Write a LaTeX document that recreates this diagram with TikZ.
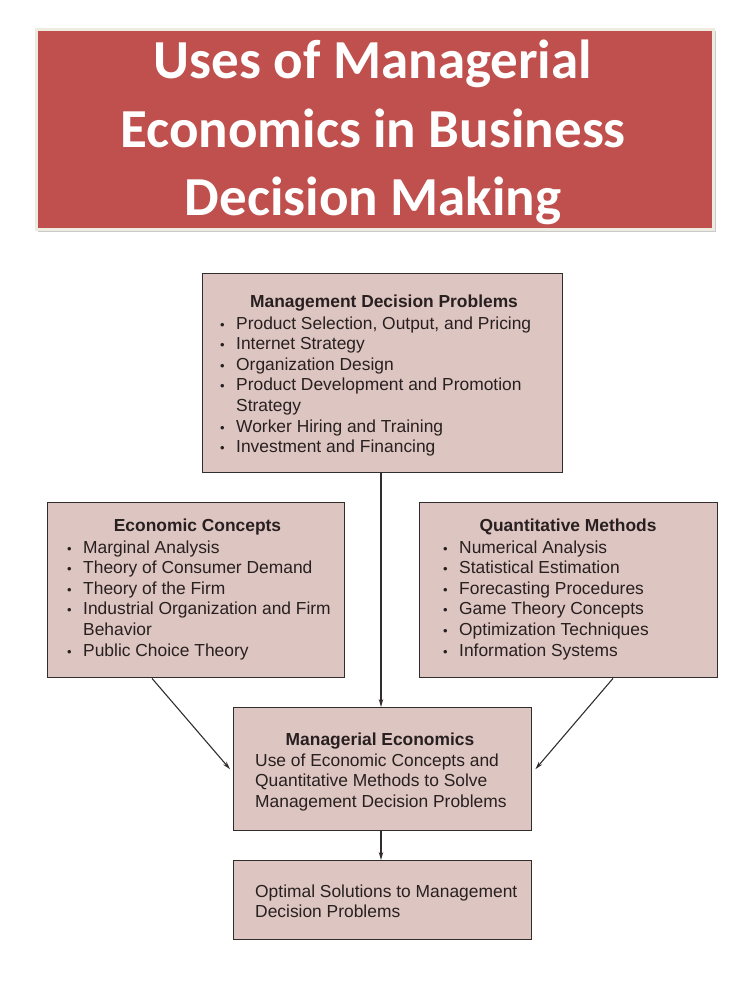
\documentclass[tikz,border=0pt]{standalone}
\usepackage{fontspec}
\setmainfont{Liberation Sans}
\newfontfamily\titlefont{Carlito}
\usetikzlibrary{arrows.meta,calc}
\definecolor{titlered}{RGB}{192,80,77}
\definecolor{cream}{RGB}{238,236,225}
\definecolor{boxfill}{RGB}{221,197,193}
\definecolor{boxline}{RGB}{50,45,45}
\definecolor{txt}{RGB}{40,32,32}
\newcommand{\bl}{\makebox[16pt][l]{\fontsize{13}{13}\selectfont\textbullet}}
\tikzset{
  panel/.style={draw=boxline,fill=boxfill,line width=1.4pt,rectangle,inner sep=0pt},
  head/.style={anchor=base,inner sep=0pt,text=txt,font=\fontsize{17.4}{20.6}\selectfont\bfseries},
  body/.style={anchor=base west,inner sep=0pt,text=txt,font=\fontsize{17.4}{20.6}\selectfont},
  link/.style={draw=boxline,line width=1.1pt,-{Stealth[length=8pt,width=4.5pt]}}
}
\begin{document}
\begin{tikzpicture}[x=1pt,y=-1pt]
\useasboundingbox (0,0) rectangle (750,1000);
% title
\fill[black!35,opacity=0.6] (38,31) rectangle (716,232);
\node[draw=cream,fill=titlered,line width=3pt,minimum width=677pt,minimum height=200pt,anchor=north west,inner sep=0pt] (title) at (35,28) {};
\node[anchor=base,inner sep=0pt,text=white,font=\titlefont\bfseries\fontsize{55}{68.5}\selectfont,align=center] (titletext) at (373,79)
  {\begin{tabular}[t]{@{}c@{}}Uses of Managerial\\Economics in Business\\Decision Making\end{tabular}};
% boxes
\node[panel,minimum width=360pt,minimum height=199pt,anchor=north west] (mdp) at (202,273) {};
\node[panel,minimum width=297pt,minimum height=175pt,anchor=north west] (econ) at (47,502) {};
\node[panel,minimum width=298pt,minimum height=175pt,anchor=north west] (qm) at (419,502) {};
\node[panel,minimum width=298pt,minimum height=123pt,anchor=north west] (me) at (233,707) {};
\node[panel,minimum width=298pt,minimum height=79pt,anchor=north west] (opt) at (233,860) {};
% texts
\node[head] (mdph) at (384,307) {Management Decision Problems};
\node[body] (mdpt) at (220,329) {\begin{tabular}[t]{@{}l@{}}
\bl Product Selection, Output, and Pricing\\
\bl Internet Strategy\\
\bl Organization Design\\
\bl Product Development and Promotion\\
\hspace{16pt}Strategy\\
\bl Worker Hiring and Training\\
\bl Investment and Financing\end{tabular}};
\node[head] (econh) at (197.5,531) {Economic Concepts};
\node[body] (econt) at (67,553) {\begin{tabular}[t]{@{}l@{}}
\bl Marginal Analysis\\
\bl Theory of Consumer Demand\\
\bl Theory of the Firm\\
\bl Industrial Organization and Firm\\
\hspace{16pt}Behavior\\
\bl Public Choice Theory\end{tabular}};
\node[head] (qmh) at (568,531) {Quantitative Methods};
\node[body] (qmt) at (443,553) {\begin{tabular}[t]{@{}l@{}}
\bl Numerical Analysis\\
\bl Statistical Estimation\\
\bl Forecasting Procedures\\
\bl Game Theory Concepts\\
\bl Optimization Techniques\\
\bl Information Systems\end{tabular}};
\node[head] (meh) at (380,745) {Managerial Economics};
\node[body] (met) at (255,766) {\begin{tabular}[t]{@{}l@{}}
Use of Economic Concepts and\\
Quantitative Methods to Solve\\
Management Decision Problems\end{tabular}};
\node[body] (optt) at (255,897) {\begin{tabular}[t]{@{}l@{}}
Optimal Solutions to Management\\
Decision Problems\end{tabular}};
% connectors
\coordinate (mdpout) at ($(mdp.south west)+(179,0)$);
\coordinate (mein) at ($(me.north west)+(148,0)$);
\coordinate (meout) at ($(me.south west)+(148,0)$);
\coordinate (optin) at ($(opt.north west)+(148,0)$);
\coordinate (econout) at ($(econ.south west)+(105,0)$);
\coordinate (qmout) at ($(qm.south west)+(194,0)$);
\draw[link] (mdpout) -- (mein);
\draw[link] (meout) -- (optin);
\draw[link] (econout) -- ($(me.west)+(-3,0)$);
\draw[link] (qmout) -- ($(me.east)+(3,0)$);
\end{tikzpicture}
\end{document}
